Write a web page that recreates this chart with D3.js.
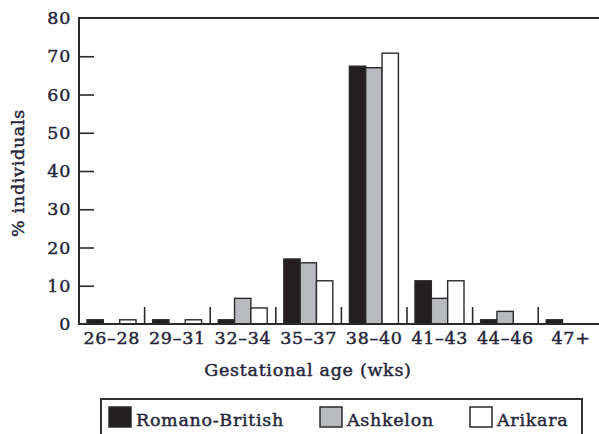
<!DOCTYPE html>
<html>
<head>
<meta charset="utf-8">
<script src="https://cdn.jsdelivr.net/npm/d3@7"></script>
<style>
  html, body { margin: 0; padding: 0; background: #fff; }
  svg { display: block; }
  text {
    font-family: "DejaVu Serif", "Liberation Serif", serif;
    fill: #26263a; stroke: #26263a; stroke-width: 0.45px;
    letter-spacing: 0.7px;
  }
</style>
</head>
<body>
<svg id="chart" width="599" height="434"></svg>
<script>
// Gestational age classes (weeks)
const categories = ["26–28", "29–31", "32–34", "35–37", "38–40", "41–43", "44–46", "47+"];
const series = ["Romano-British", "Ashkelon", "Arikara"];
// Percentage of individuals in each class
const romanoBritish = [1.1, 1.1, 1.1, 17.0, 67.4, 11.3, 1.1, 1.1];
const ashkelon      = [0, 0, 6.7, 16.0, 67.0, 6.7, 3.3, 0];
const arikara       = [1.1, 1.1, 4.2, 11.3, 70.8, 11.3, 0, 0];
const yTicks = [0, 10, 20, 30, 40, 50, 60, 70, 80];

const fills = { "Romano-British": "#231f20", "Ashkelon": "#b9babd", "Arikara": "#ffffff" };
const valuesBySeries = { "Romano-British": romanoBritish, "Ashkelon": ashkelon, "Arikara": arikara };

const svg = d3.select("#chart");
const plotLeft = 79, plotTop = 18, plotBottom = 324, plotRight = 599;

const x = d3.scaleBand().domain(categories).range([plotLeft, 603.8]).paddingInner(0).paddingOuter(0);
const xs = d3.scaleBand().domain(series).range([8, 57]);
const y = d3.scaleLinear().domain([0, 80]).range([plotBottom, plotTop]);

// bars
const groups = svg.append("g").selectAll("g")
  .data(categories)
  .join("g")
  .attr("transform", d => `translate(${x(d)},0)`);

groups.selectAll("rect")
  .data((c, i) => series.map(s => ({ s, v: valuesBySeries[s][i] })).filter(d => d.v > 0))
  .join("rect")
  .attr("x", d => xs(d.s))
  .attr("width", xs.bandwidth())
  .attr("y", d => y(d.v))
  .attr("height", d => y(0) - y(d.v))
  .attr("fill", d => fills[d.s])
  .attr("stroke", "#2a2a2a")
  .attr("stroke-width", 1.4);

// group separators rising from the baseline
svg.append("g").selectAll("line")
  .data(categories.slice(1))
  .join("line")
  .attr("x1", d => x(d)).attr("x2", d => x(d))
  .attr("y1", plotBottom).attr("y2", plotBottom - 17)
  .attr("stroke", "#2a2a2a").attr("stroke-width", 1.6);

// y axis with inward ticks
const yAxis = svg.append("g")
  .attr("transform", `translate(${plotLeft},0)`)
  .call(d3.axisLeft(y).tickValues(yTicks).tickSize(-15).tickPadding(8).tickFormat(d3.format("d")));
yAxis.select(".domain").remove();
yAxis.selectAll(".tick line")
  .attr("stroke", "#2a2a2a").attr("stroke-width", 1.6)
  .attr("display", d => (d === 0 || d === 80) ? "none" : null);
yAxis.selectAll(".tick text")
  .attr("font-size", 17.5).attr("fill", "#26263a")
  .attr("font-family", "DejaVu Serif, serif");

// x axis labels
const xAxis = svg.append("g")
  .attr("transform", `translate(0,${plotBottom})`)
  .call(d3.axisBottom(x).tickSize(0).tickPadding(8));
xAxis.select(".domain").remove();
xAxis.selectAll(".tick text")
  .attr("font-size", 17.5).attr("fill", "#26263a")
  .attr("font-family", "DejaVu Serif, serif");

// frame: left, top and baseline
svg.append("path")
  .attr("d", `M${plotRight},${plotTop}H${plotLeft}V${plotBottom}H${plotRight}`)
  .attr("fill", "none").attr("stroke", "#2a2a2a").attr("stroke-width", 2);

// axis titles
svg.append("text")
  .attr("x", 308).attr("y", 376)
  .attr("text-anchor", "middle").attr("font-size", 17.5)
  .text("Gestational age (wks)");

svg.append("text")
  .attr("transform", "translate(24,173) rotate(-90)")
  .attr("text-anchor", "middle").attr("font-size", 17.5)
  .text("% individuals");

// legend
const legend = svg.append("g");
legend.append("rect")
  .attr("x", 101).attr("y", 399).attr("width", 481).attr("height", 45)
  .attr("fill", "#fff").attr("stroke", "#333").attr("stroke-width", 2);

const legendX = [109, 320, 470];
const item = legend.selectAll("g.item")
  .data(series)
  .join("g").attr("class", "item")
  .attr("transform", (d, i) => `translate(${legendX[i]},407)`);
item.append("rect")
  .attr("width", 22).attr("height", 20)
  .attr("fill", d => fills[d]).attr("stroke", "#2a2a2a").attr("stroke-width", 1.5);
item.append("text")
  .attr("x", 27).attr("y", 19)
  .attr("font-size", 17.5)
  .text(d => d);
</script>
</body>
</html>
